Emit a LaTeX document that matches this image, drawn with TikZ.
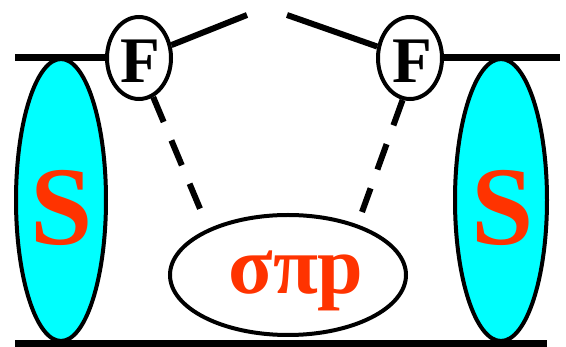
\documentclass[tikz,border=0pt]{standalone}
\usepackage{fontspec}
\setmainfont{Liberation Serif}
\usetikzlibrary{shapes.geometric}
\definecolor{sred}{RGB}{255,51,0}
\definecolor{scyan}{RGB}{0,255,255}
\begin{document}
\begin{tikzpicture}[x=1pt,y=-1pt,
  blob/.style={ellipse, draw=black, line width=4pt, inner sep=0pt},
  sblob/.style={blob, fill=scyan, minimum width=90pt, minimum height=282pt},
  fblob/.style={blob, fill=white, minimum width=64pt, minimum height=82pt},
  rail/.style={line width=7pt},
  link/.style={line width=6pt},
  dlink/.style={line width=6pt, dash pattern=on 27pt off 20pt},
  stxt/.style={text=sred, font=\bfseries\fontsize{112}{112}\selectfont, inner sep=0pt, anchor=base},
  ftxt/.style={text=black, font=\bfseries\fontsize{65}{65}\selectfont, inner sep=0pt, anchor=base},
  gtxt/.style={text=sred, font=\bfseries\fontsize{82}{82}\selectfont, inner sep=0pt, anchor=base}]
\useasboundingbox (0,0) rectangle (566,347);

% end points of the open lines
\coordinate (tl) at (15,58);
\coordinate (tr) at (560,58);
\coordinate (bl) at (15,343.5);
\coordinate (br) at (547,343.5);
\coordinate (gl) at (247,15);
\coordinate (gr) at (287,15);
\coordinate (dl) at (201,211);
\coordinate (dr) at (362,212);

% bottom rail
\draw[rail] (bl) -- (br);

% side blobs
\node[sblob] (Sl) at (61,200) {};
\node[sblob, minimum width=92pt] (Sr) at (501,200) {};
\node[stxt] (Slt) at (62,245) {S};
\node[stxt] (Srt) at (503,245) {S};

% vertices
\node[fblob] (Fl) at (139,58) {};
\node[fblob] (Fr) at (410,58) {};
\node[ftxt] (Flt) at (140,83) {F};
\node[ftxt] (Frt) at (412,83) {F};

% top rails
\draw[rail] (tl) -- (Fl.west);
\draw[rail] (Fr.east) -- (tr);

% outgoing lines towards the gap
\draw[link] (Fl) -- (gl);
\draw[link] (Fr) -- (gr);

% central blob
\node[blob, fill=white, minimum width=236pt, minimum height=120pt] (C) at (288,275) {};
\node[gtxt] (Ct) at (296,294) {σπp};

% dashed exchange lines
\draw[dlink] (Fl.-70) -- (dl);
\draw[dlink] (Fr.-100) -- (dr);
\end{tikzpicture}
\end{document}
